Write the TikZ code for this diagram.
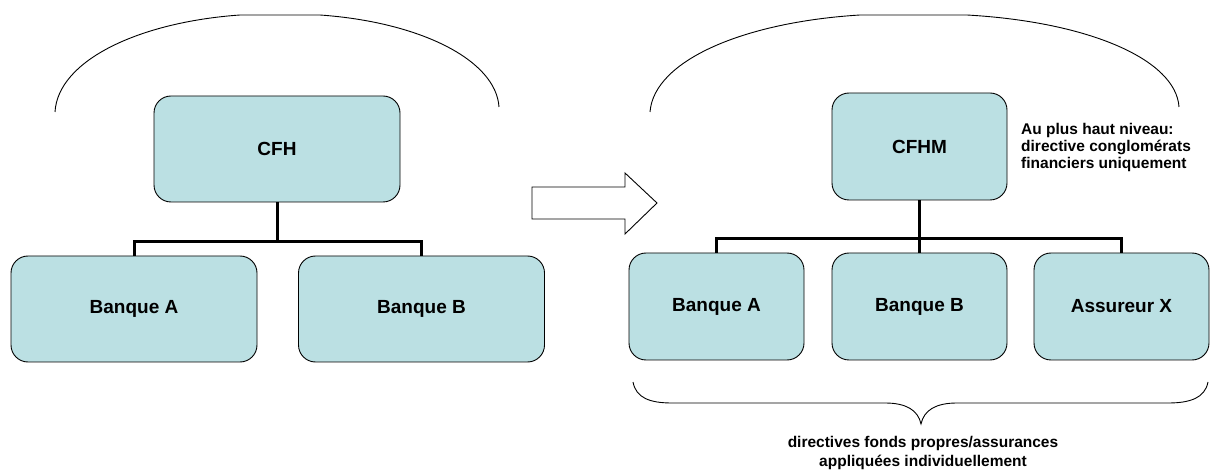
\documentclass[tikz,border=0pt]{standalone}
\usepackage{fontspec}
\setmainfont{Liberation Sans}
\definecolor{boxfill}{HTML}{BBE0E3}
\tikzset{
  entity/.style={draw=black, line width=0.9pt, fill=boxfill, rounded corners=17pt,
    inner sep=0pt, font=\fontsize{19}{22}\selectfont\bfseries},
  bigbox/.style={entity, minimum width=246pt, minimum height=106pt},
  smallbox/.style={entity, minimum width=175pt, minimum height=107pt},
  conn/.style={line width=3pt, line join=miter},
  thin/.style={line width=0.9pt},
  note/.style={inner sep=0pt, font=\fontsize{15.5}{17}\selectfont\bfseries}
}
\begin{document}
\begin{tikzpicture}[x=1pt, y=-1pt]
  \useasboundingbox (0,0) rectangle (1216,470);

  % left group: CFH with two banks
  \draw[thin] (55,112) .. controls (58,60) and (140,22) .. (240,15) -- (320,15)
              .. controls (420,22) and (496,60) .. (499,107);
  \node[bigbox] (cfh) at (277,149) {CFH};
  \node[bigbox] (lba) at (134,309) {Banque A};
  \node[bigbox] (lbb) at (421.5,309) {Banque B};
  \coordinate (lj) at (277,242);
  \draw[conn] (cfh.south) -- (lj);
  \draw[conn] (lba.north) |- (lj) -| (lbb.north);

  % block arrow
  \draw[thin, line join=miter] (532,187) -- (625,187) -- (625,173) -- (657,203)
        -- (625,234) -- (625,219) -- (532,219) -- cycle;

  % right group: CFHM with banks and insurer
  \draw[thin] (650,112) .. controls (654,60) and (745,22) .. (860,15) -- (967,15)
              .. controls (1090,22) and (1176,60) .. (1179,107);
  \node[smallbox] (cfhm) at (919.5,146.5) {CFHM};
  \node[smallbox] (rba) at (716.5,306.5) {Banque A};
  \node[smallbox] (rbb) at (919.5,306.5) {Banque B};
  \node[smallbox] (rax) at (1121.5,306.5) {Assureur X};
  \coordinate (rj) at (919.5,239);
  \draw[conn] (cfhm.south) -- (rj);
  \draw[conn] (rba.north) |- (rj) -| (rax.north);
  \draw[conn] (rbb.north) -- (rj);

  \node[note, anchor=west, align=left] (top) at (1021,147)
    {Au plus haut niveau:\\directive conglomérats\\financiers uniquement};

  % brace under the subsidiaries
  \draw[thin] (633,382) .. controls (636,398) and (650,403) .. (672,403) -- (885,403)
              .. controls (906,403) and (918,410) .. (921,424)
              .. controls (924,410) and (936,403) .. (957,403) -- (1168,403)
              .. controls (1190,403) and (1205,398) .. (1208,382);
  \node[note, align=center, font=\fontsize{15.5}{19}\selectfont\bfseries] (bottom) at (923,453)
    {directives fonds propres/assurances\\appliquées individuellement};
\end{tikzpicture}
\end{document}
